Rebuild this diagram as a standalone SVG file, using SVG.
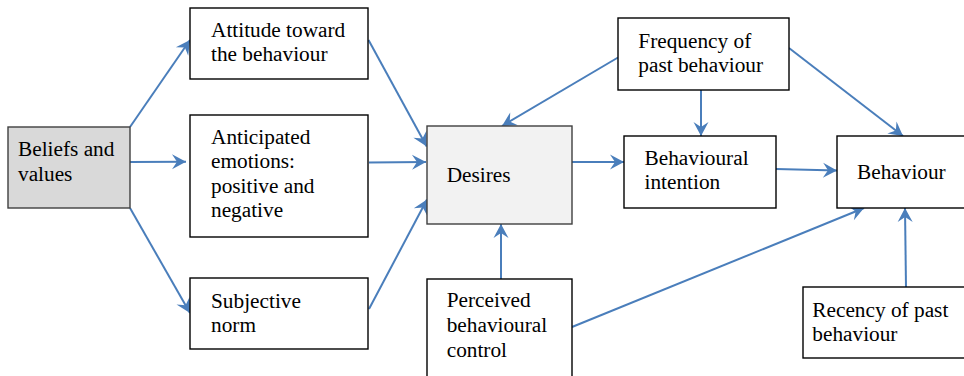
<svg xmlns="http://www.w3.org/2000/svg" width="964" height="376" viewBox="0 0 964 376">
  <style>
    .box { fill: #ffffff; stroke: #000000; stroke-width: 1.4; }
    .grey { fill: #d9d9d9; stroke: #3f3f3f; }
    .light { fill: #f2f2f2; stroke: #3f3f3f; }
    text { font-size: 21.3px; fill: #000000; }
    .edge { fill: none; stroke: #4a7ebb; stroke-width: 2; marker-end: url(#arrow); }
  </style>
  <defs>
    <marker id="arrow" markerUnits="userSpaceOnUse" markerWidth="16" markerHeight="16" viewBox="-15 -8 16 16" refX="0" refY="0" orient="auto">
      <path d="M0,0 L-14,-7.5 L-9,0 L-14,7.5 Z" fill="#4a7ebb"/>
    </marker>
  </defs>

  <!-- connectors -->
  <g id="connectors">
    <line class="edge" x1="130" y1="127" x2="190" y2="40"/>
    <line class="edge" x1="130" y1="162" x2="186" y2="161.7"/>
    <line class="edge" x1="130" y1="208" x2="190" y2="313"/>
    <line class="edge" x1="368.5" y1="40" x2="426.7" y2="146.5"/>
    <line class="edge" x1="369" y1="162.6" x2="426" y2="162"/>
    <line class="edge" x1="369" y1="309" x2="427" y2="199.5"/>
    <line class="edge" x1="618" y1="57.5" x2="502" y2="126"/>
    <line class="edge" x1="701" y1="90" x2="701" y2="136"/>
    <line class="edge" x1="789" y1="48" x2="903" y2="136"/>
    <line class="edge" x1="572" y1="162" x2="624" y2="162"/>
    <line class="edge" x1="776" y1="169" x2="837" y2="170.5"/>
    <line class="edge" x1="501" y1="279" x2="501" y2="224"/>
    <line class="edge" x1="572" y1="327" x2="864" y2="208"/>
    <line class="edge" x1="906" y1="287" x2="905" y2="208"/>
  </g>

  <g font-family="'Liberation Serif', 'Times New Roman', 'DejaVu Serif', serif">
    <g id="beliefs">
      <rect class="box grey" x="8" y="127" width="122" height="81"/>
      <text x="18" y="156">Beliefs and</text>
      <text x="18" y="181">values</text>
    </g>

    <g id="attitude">
      <rect class="box" x="190" y="8" width="178" height="71"/>
      <text x="211" y="36.7">Attitude toward</text>
      <text x="211" y="61">the behaviour</text>
    </g>

    <g id="emotions">
      <rect class="box" x="190" y="115" width="178" height="122"/>
      <text x="211" y="144">Anticipated</text>
      <text x="211" y="168">emotions:</text>
      <text x="211" y="192.7">positive and</text>
      <text x="211" y="217">negative</text>
    </g>

    <g id="norm">
      <rect class="box" x="190" y="278" width="178" height="71"/>
      <text x="211" y="307.7">Subjective</text>
      <text x="211" y="331.7">norm</text>
    </g>

    <g id="desires">
      <rect class="box light" x="427" y="126" width="145" height="98"/>
      <text x="446.7" y="182">Desires</text>
    </g>

    <g id="control">
      <rect class="box" x="427" y="279" width="145" height="104"/>
      <text x="446.7" y="307.3">Perceived</text>
      <text x="446.7" y="331.7">behavioural</text>
      <text x="446.7" y="356.7">control</text>
    </g>

    <g id="frequency">
      <rect class="box" x="618" y="18" width="171" height="72"/>
      <text x="638.3" y="47.5">Frequency of</text>
      <text x="638.3" y="72">past behaviour</text>
    </g>

    <g id="intention">
      <rect class="box" x="624" y="136" width="152" height="72"/>
      <text x="644.5" y="165">Behavioural</text>
      <text x="644.5" y="189">intention</text>
    </g>

    <g id="behaviour">
      <rect class="box" x="837" y="136" width="130" height="72"/>
      <text x="857" y="179">Behaviour</text>
    </g>

    <g id="recency">
      <rect class="box" x="803" y="287" width="164" height="71"/>
      <text x="812.3" y="317.3">Recency of past</text>
      <text x="812.3" y="341">behaviour</text>
    </g>
  </g>
</svg>
